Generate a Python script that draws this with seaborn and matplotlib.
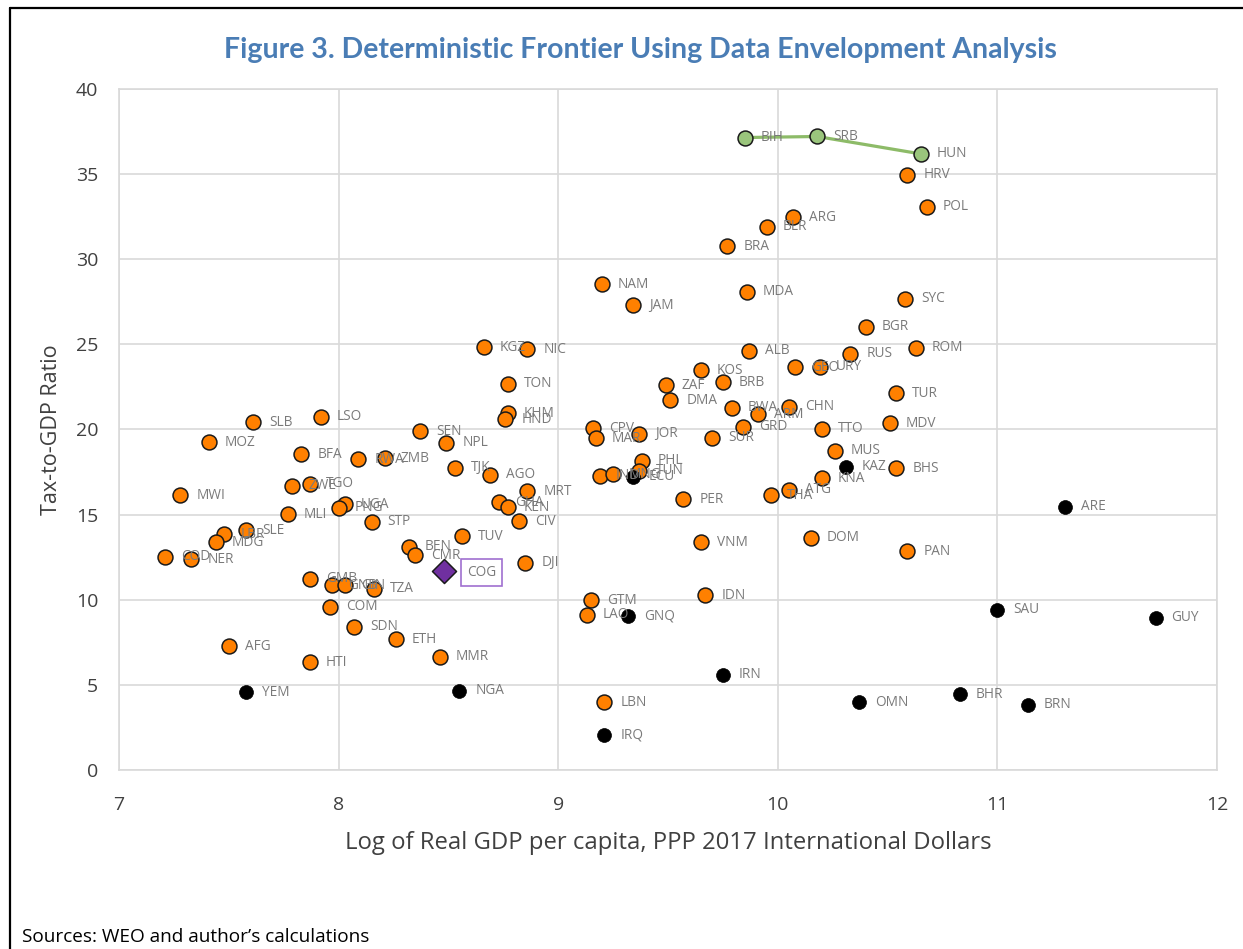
import numpy as np
import pandas as pd
import matplotlib.pyplot as plt
import seaborn as sns
from matplotlib.lines import Line2D

# ==========================================================
# DATA
# ==========================================================

# countries inside the frontier
orange_codes = [
    "SLB", "LSO", "MOZ", "SEN", "NPL", "BFA", "RWA", "ZMB", "TJK", "AGO",
    "TGO", "ZWE", "MWI", "UGA", "PNG", "MLI", "STP", "SLE", "LBR", "MDG",
    "COD", "NER", "TUV", "BEN", "CMR", "GMB", "GNB", "GIN", "TZA", "COM",
    "SDN", "ETH", "AFG", "HTI", "MMR", "KGZ", "NIC", "TON", "KHM", "HND",
    "CPV", "MAR", "JOR", "SUR", "KOS", "ZAF", "DMA", "BRB", "PHL", "TUN",
    "IND", "MNG", "MRT", "GHA", "KEN", "CIV", "DJI", "PER", "VNM", "IDN",
    "GTM", "LAO", "LBN", "ALB", "RUS", "GEO", "URY", "BWA", "ARM", "CHN",
    "GRD", "TTO", "MUS", "KNA", "ATG", "THA", "DOM", "PAN", "TUR", "MDV",
    "BHS", "ROM", "HRV", "POL", "ARG", "BLR", "BRA", "MDA", "SYC", "BGR",
    "NAM", "JAM",
]
orange_x = [
    7.61, 7.92, 7.41, 8.37, 8.49, 7.83, 8.09, 8.21, 8.53, 8.69,
    7.87, 7.79, 7.28, 8.03, 8.00, 7.77, 8.15, 7.58, 7.48, 7.44,
    7.21, 7.33, 8.56, 8.32, 8.35, 7.87, 7.97, 8.03, 8.16, 7.96,
    8.07, 8.26, 7.50, 7.87, 8.46, 8.66, 8.86, 8.77, 8.77, 8.76,
    9.16, 9.17, 9.37, 9.70, 9.65, 9.49, 9.51, 9.75, 9.38, 9.37,
    9.19, 9.25, 8.86, 8.73, 8.77, 8.82, 8.85, 9.57, 9.65, 9.67,
    9.15, 9.13, 9.21, 9.87, 10.33, 10.08, 10.19, 9.79, 9.91, 10.05,
    9.84, 10.20, 10.26, 10.20, 10.05, 9.97, 10.15, 10.59, 10.54, 10.51,
    10.54, 10.63, 10.59, 10.68, 10.07, 9.95, 9.77, 9.86, 10.58, 10.40,
    9.20, 9.34,
]
orange_y = [
    20.42, 20.75, 19.26, 19.89, 19.22, 18.56, 18.26, 18.30, 17.75, 17.34,
    16.81, 16.69, 16.13, 15.62, 15.40, 15.03, 14.58, 14.09, 13.86, 13.37,
    12.53, 12.37, 13.74, 13.11, 12.61, 11.23, 10.86, 10.86, 10.65, 9.59,
    8.42, 7.67, 7.28, 6.34, 6.65, 24.82, 24.72, 22.69, 20.96, 20.59,
    20.08, 19.48, 19.75, 19.51, 23.49, 22.59, 21.71, 22.77, 18.16, 17.58,
    17.28, 17.36, 16.36, 15.72, 15.44, 14.60, 12.17, 15.91, 13.37, 10.26,
    9.96, 9.12, 3.99, 24.62, 24.45, 23.65, 23.68, 21.28, 20.90, 21.33,
    20.16, 20.04, 18.75, 17.15, 16.47, 16.15, 13.64, 12.84, 22.12, 20.36,
    17.73, 24.80, 34.96, 33.08, 32.47, 31.90, 30.77, 28.09, 27.68, 26.03,
    28.54, 27.30,
]

# resource-rich countries (black)
black_codes = ["YEM", "NGA", "GNQ", "ECU", "KAZ", "ARE", "SAU", "GUY",
               "IRN", "OMN", "BHR", "BRN", "IRQ"]
black_x = [7.58, 8.55, 9.32, 9.34, 10.31, 11.31, 11.00, 11.72,
           9.75, 10.37, 10.83, 11.14, 9.21]
black_y = [4.56, 4.66, 9.06, 17.22, 17.81, 15.45, 9.40, 8.93,
           5.60, 3.99, 4.46, 3.82, 2.07]

# frontier countries (green)
front_codes = ["BIH", "SRB", "HUN"]
front_x = [9.85, 10.18, 10.65]
front_y = [37.15, 37.21, 36.19]

# highlighted country
cog_code = ["COG"]
cog_x = [8.48]
cog_y = [11.69]

x_ticks = [7, 8, 9, 10, 11, 12]
y_ticks = [0, 5, 10, 15, 20, 25, 30, 35, 40]

orange_df = pd.DataFrame({"code": orange_codes, "x": orange_x, "y": orange_y})
black_df = pd.DataFrame({"code": black_codes, "x": black_x, "y": black_y})
front_df = pd.DataFrame({"code": front_codes, "x": front_x, "y": front_y})
cog_df = pd.DataFrame({"code": cog_code, "x": cog_x, "y": cog_y})

# ==========================================================
# STYLE
# ==========================================================

sns.set_theme(style="whitegrid")
plt.rcParams["font.family"] = ["Open Sans", "DejaVu Sans"]

grid_col = "#d9d9d9"
lab_col = "#7a7a7a"
tick_col = "#404040"

fig = plt.figure(figsize=(12.43, 9.49), dpi=100)
ax = fig.add_axes([119 / 1243, 1 - 770 / 949, (1217 - 119) / 1243, (770 - 89) / 949])

# ==========================================================
# PLOT
# ==========================================================

sns.lineplot(data=front_df, x="x", y="y", ax=ax, color="#8dbb68",
             linewidth=2.3, sort=True, zorder=2)

sns.scatterplot(data=orange_df, x="x", y="y", ax=ax, color="#ff8000",
                edgecolor="#1a1a1a", linewidth=1.1, s=115, zorder=3)
sns.scatterplot(data=black_df, x="x", y="y", ax=ax, color="black",
                edgecolor="black", linewidth=0.5, s=100, zorder=3)
sns.scatterplot(data=front_df, x="x", y="y", ax=ax, color="#9ac57c",
                edgecolor="#1a1a1a", linewidth=1.1, s=115, zorder=4)
sns.scatterplot(data=cog_df, x="x", y="y", ax=ax, color="#7030a0",
                marker="D", edgecolor="#1a1a1a", linewidth=1.1, s=150, zorder=4)

# data labels to the right of each point
for d in [orange_df, black_df, front_df]:
    for _, r in d.iterrows():
        ax.annotate(r["code"], (r["x"], r["y"]), xytext=(11.5, 0),
                    textcoords="offset points", ha="left", va="center",
                    fontsize=9.8, color=lab_col, zorder=5)

for _, r in cog_df.iterrows():
    ax.annotate(r["code"], (r["x"], r["y"]), xytext=(16.5, -1),
                textcoords="offset points", ha="left", va="center",
                fontsize=9.8, color=lab_col, zorder=5,
                bbox=dict(boxstyle="square,pad=0.45", fc="white",
                          ec="#a070d0", lw=1.2))

ax.set_xlim(7, 12)
ax.set_ylim(0, 40)
ax.set_xticks(x_ticks)
ax.set_yticks(y_ticks)
ax.grid(True, color=grid_col, linewidth=1.2)
for sp in ax.spines.values():
    sp.set_color(grid_col)
    sp.set_linewidth(1.2)

ax.tick_params(axis="both", length=0, labelsize=14, colors=tick_col)
ax.tick_params(axis="x", pad=19)
ax.tick_params(axis="y", pad=15)

ax.set_xlabel("Log of Real GDP per capita, PPP 2017 International Dollars",
              fontsize=17.2, color=tick_col, labelpad=12)
ax.set_ylabel("Tax-to-GDP Ratio", fontsize=15.5, color=tick_col, labelpad=10)

fig.text(640 / 1243, 1 - 50 / 949,
         "Figure 3. Deterministic Frontier Using Data Envelopment Analysis",
         ha="center", va="center", fontsize=20.5, fontweight="bold",
         color="#4a7db5", family=["Lato", "DejaVu Sans"])

fig.text(22 / 1243, 1 - 937 / 949, "Sources: WEO and author\u2019s calculations",
         ha="left", va="center", fontsize=13.7, color="black")

# outer frame (left and top edges)
fig.add_artist(Line2D([10 / 1243, 10 / 1243], [0, 1 - 8 / 949],
                      transform=fig.transFigure, color="black", linewidth=1.6))
fig.add_artist(Line2D([10 / 1243, 1], [1 - 8 / 949, 1 - 8 / 949],
                      transform=fig.transFigure, color="black", linewidth=1.6))

fig.savefig("out.png", dpi=100, facecolor="white")
